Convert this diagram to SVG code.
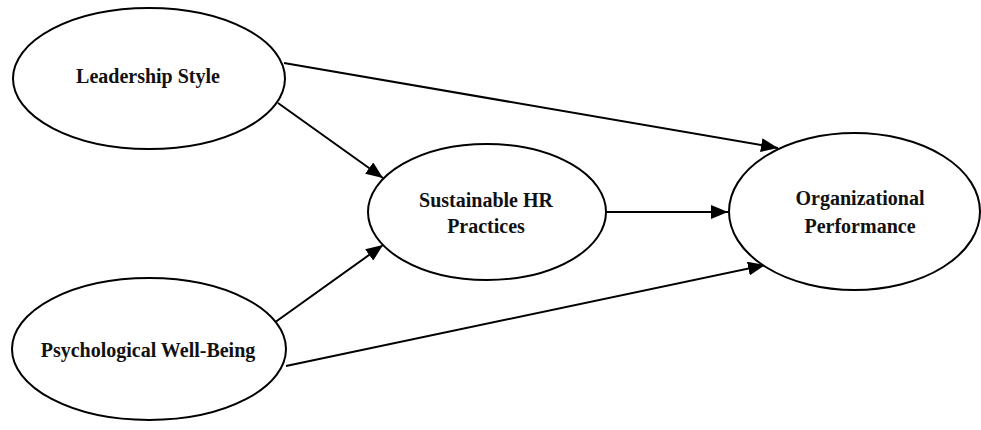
<svg xmlns="http://www.w3.org/2000/svg" width="981" height="430" viewBox="0 0 981 430">
<style>
.node ellipse{fill:#fff;stroke:#000;stroke-width:2}
.node text{font-family:"Liberation Serif","Times New Roman",serif;font-weight:bold;font-size:20px;fill:#111;text-anchor:middle}
.edges line{stroke:#000;stroke-width:2;marker-end:url(#ah)}
</style>
<defs>
<marker id="ah" markerUnits="userSpaceOnUse" markerWidth="18" markerHeight="14" refX="17" refY="7" orient="auto">
<path d="M0,0 L17,7 L0,14 z" fill="#000"/>
</marker>
</defs>
<rect width="981" height="430" fill="#fff"/>
<g class="edges">
<line x1="284" y1="63" x2="778" y2="148"/>
<line x1="278" y1="103" x2="383" y2="178"/>
<line x1="274" y1="323" x2="383" y2="245"/>
<line x1="286" y1="366" x2="765" y2="265"/>
<line x1="606" y1="212" x2="728" y2="212"/>
</g>
<g id="leadership" class="node">
<ellipse cx="149" cy="78.5" rx="136" ry="70.5"/>
<text x="148" y="83">Leadership Style</text>
</g>
<g id="wellbeing" class="node">
<ellipse cx="149" cy="349" rx="137" ry="71"/>
<text x="148" y="357">Psychological Well-Being</text>
</g>
<g id="hr" class="node">
<ellipse cx="487" cy="212" rx="119" ry="68"/>
<text x="486" y="207">Sustainable HR</text>
<text x="486" y="233">Practices</text>
</g>
<g id="performance" class="node">
<ellipse cx="854.5" cy="211.5" rx="125.5" ry="78.5"/>
<text x="860" y="205">Organizational</text>
<text x="860" y="233">Performance</text>
</g>
</svg>
